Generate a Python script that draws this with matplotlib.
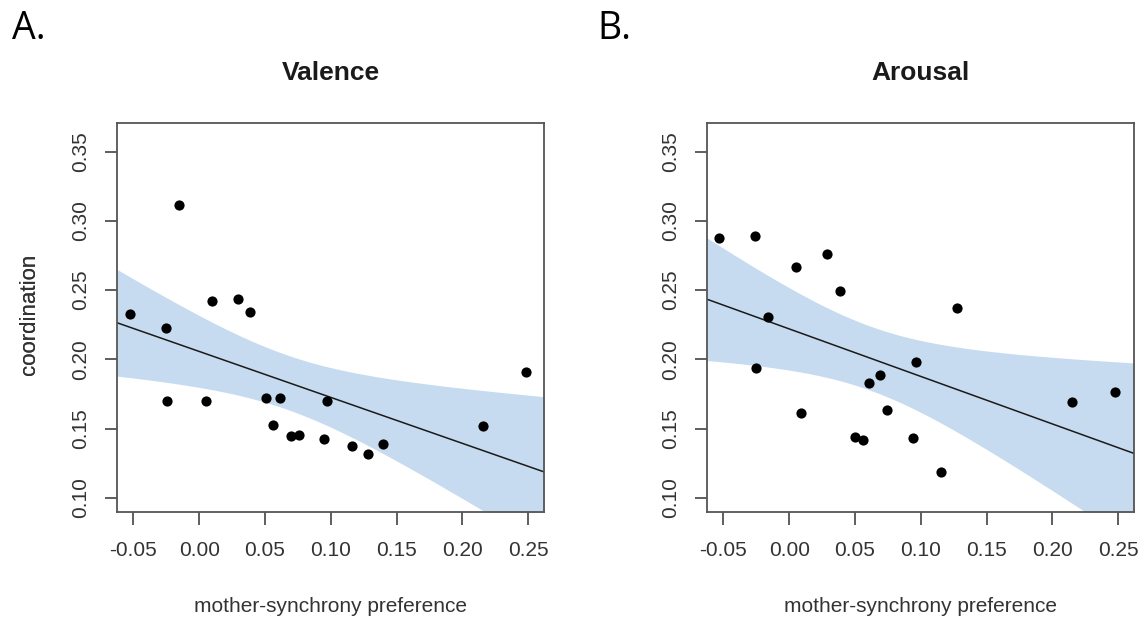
import numpy as np
import matplotlib
matplotlib.use("Agg")
import matplotlib.pyplot as plt

plt.rcParams['font.family'] = ['Liberation Sans', 'DejaVu Sans']

# ---- data ----
valence_x = [-0.0525, -0.0254, -0.0153, -0.0244, 0.0054, 0.0097, 0.0292, 0.0389,
             0.0510, 0.0616, 0.0563, 0.0697, 0.0756, 0.0971, 0.0951, 0.1158,
             0.1280, 0.1394, 0.2156, 0.2482]
valence_y = [0.2325, 0.2223, 0.3115, 0.1698, 0.1698, 0.2423, 0.2433, 0.2344,
             0.1723, 0.1723, 0.1525, 0.1446, 0.1455, 0.1701, 0.1424, 0.1376,
             0.1318, 0.1385, 0.1515, 0.1910]

arousal_x = [-0.0530, -0.0259, -0.0158, -0.0249, 0.0049, 0.0092, 0.0285, 0.0384,
             0.0503, 0.0561, 0.0609, 0.0692, 0.0746, 0.0963, 0.0943, 0.1151,
             0.1272, 0.2148, 0.2477]
arousal_y = [0.2879, 0.2888, 0.2303, 0.1939, 0.2669, 0.1612, 0.2761, 0.2491,
             0.1438, 0.1414, 0.1828, 0.1889, 0.1631, 0.1978, 0.1433, 0.1188,
             0.2373, 0.1691, 0.1761]

panel_titles = ["Valence", "Arousal"]
panel_letters = ["A.", "B."]
x_ticks = [-0.05, 0.00, 0.05, 0.10, 0.15, 0.20, 0.25]
y_ticks = [0.10, 0.15, 0.20, 0.25, 0.30, 0.35]
x_label = "mother-synchrony preference"
y_label = "coordination"
t_crit = {20: 2.101, 19: 2.110}

XLIM = (-0.0622, 0.2621)
YLIM = (0.0899, 0.3705)
BAND = '#c6dbef'

fig = plt.figure(figsize=(11.45, 6.2), dpi=100)
W, H = 1145, 620
axes_px = [(117.3, 123.3, 544.0, 511.7), (707.3, 123.3, 1134.0, 511.7)]
letter_px = [12, 597]

datasets = [(valence_x, valence_y), (arousal_x, arousal_y)]
for i, (xs, ys) in enumerate(datasets):
    x0, y0, x1, y1 = axes_px[i]
    ax = fig.add_axes([x0 / W, 1 - y1 / H, (x1 - x0) / W, (y1 - y0) / H])
    x = np.asarray(xs)
    y = np.asarray(ys)
    n = len(x)
    b, a = np.polyfit(x, y, 1)
    gx = np.linspace(XLIM[0], XLIM[1], 200)
    fit = a + b * gx
    resid = y - (a + b * x)
    s = np.sqrt(np.sum(resid ** 2) / (n - 2))
    se = s * np.sqrt(1 / n + (gx - x.mean()) ** 2 / np.sum((x - x.mean()) ** 2))
    t = t_crit[n]
    ax.fill_between(gx, fit - t * se, fit + t * se, color=BAND, lw=0, zorder=1)
    ax.plot(gx, fit, color='#1a1a1a', lw=1.1, zorder=2)
    ax.scatter(x, y, s=54, color='black', zorder=3, linewidths=0)
    ax.set_xlim(*XLIM)
    ax.set_ylim(*YLIM)
    ax.set_xticks(x_ticks)
    ax.set_xticklabels([f"{v:.2f}" for v in x_ticks])
    ax.set_yticks(y_ticks)
    ax.set_yticklabels([f"{v:.2f}" for v in y_ticks], rotation=90, va='center')
    ax.tick_params(axis='both', direction='out', length=9, width=1.1,
                   colors='#333333', labelcolor='#333333', labelsize=15)
    ax.tick_params(axis='x', pad=12)
    ax.tick_params(axis='y', pad=10.5)
    for sp in ax.spines.values():
        sp.set_color('#555555')
        sp.set_linewidth(1.3)
    ax.set_xlabel(x_label, fontsize=15, color='#333333')
    ax.set_ylabel(y_label, fontsize=16, color='#333333')
    ax.xaxis.set_label_coords(0.5, (y1 - 606) / (y1 - y0))
    ax.xaxis.label.set_va('center')
    ax.yaxis.set_label_coords((29 - x0) / (x1 - x0), (y1 - 314) / (y1 - y0))
    ax.yaxis.label.set_va('center')
    fig.text((x0 + x1) / 2 / W, 1 - 73 / H, panel_titles[i], ha='center',
             va='center', fontsize=19, fontweight='bold', color='#1a1a1a')
    fig.text(letter_px[i] / W, 1 - 29 / H, panel_letters[i], ha='left',
             va='center', fontsize=27, family=['Open Sans', 'DejaVu Sans'],
             color='black')

fig.savefig('out.png', dpi=100, facecolor='white')
